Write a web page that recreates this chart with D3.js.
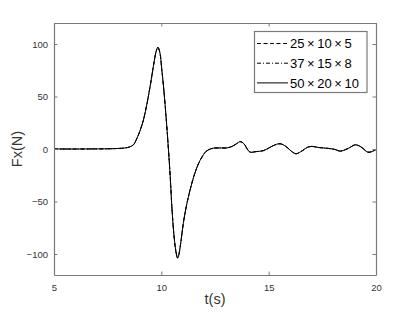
<!DOCTYPE html>
<html>
<head>
<meta charset="utf-8">
<script src="https://cdn.jsdelivr.net/npm/d3@7"></script>
<style>
  body { margin: 0; background: #fff; }
  #chart { width: 415px; height: 312px; }
  text { font-family: "Liberation Sans", Arial, sans-serif; }
</style>
</head>
<body>
<div id="chart"></div>
<script>
// time samples (s)
var times = [5, 6, 7, 7.5, 8, 8.3, 8.5, 8.7, 8.86, 9.0, 9.17, 9.33, 9.48, 9.6, 9.68, 9.76, 9.84, 9.93,
  10.02, 10.1, 10.18, 10.26, 10.33, 10.41, 10.49, 10.57, 10.64, 10.7, 10.75, 10.8, 10.9, 11.03, 11.18,
  11.34, 11.5, 11.65, 11.8, 11.96, 12.1, 12.28, 12.43, 12.6, 12.8, 13.05, 13.3, 13.5, 13.68, 13.85, 14.0,
  14.14, 14.4, 14.76, 15.1, 15.3, 15.54, 15.8, 16.05, 16.27, 16.5, 16.8, 17.0, 17.3, 17.8, 18.1, 18.34,
  18.7, 19.04, 19.3, 19.62, 19.8, 20];

// Fx (N) for each mesh
var fxCoarse = [0, 0, 0.1, 0.2, 0.5, 1, 1.8, 4, 10, 17, 28, 43, 60, 75, 85, 93, 96.6, 92, 76, 60, 41,
  20, 0, -25, -55, -78, -92, -100, -103.4, -102, -90, -70, -53, -39, -27, -18, -11, -5.5, -2, 0, 0.8,
  1, 1, 1, 2.5, 5, 7, 5, 0, -3, -2.5, -1.5, 2, 4, 5, 2.5, -2, -4.5, -2.5, 1.5, 2.5, 1.5, 0.5, -0.5,
  -2, 0.5, 4, 2, -3, -2.5, -0.5];
var fxMedium = [0, 0, 0.1, 0.2, 0.5, 1, 1.8, 4, 10, 17, 28, 43, 60, 75, 85, 93, 96.8, 92, 76, 60, 41,
  20, 0, -25, -55, -78, -92, -100, -103.7, -102, -90, -70, -53, -39, -27, -18, -11, -5.5, -2, 0, 0.8,
  1, 1, 1, 2.5, 5, 7, 5, 0, -3, -2.5, -1.5, 2, 4, 5, 2.5, -2, -4.5, -2.5, 1.5, 2.5, 1.5, 0.5, -0.5,
  -2, 0.5, 4, 2, -3, -2.5, -0.5];
var fxFine = [0, 0, 0.1, 0.2, 0.5, 1, 1.8, 4, 10, 17, 28, 43, 60, 75, 85, 93, 97, 92, 76, 60, 41,
  20, 0, -25, -55, -78, -92, -100, -104, -102, -90, -70, -53, -39, -27, -18, -11, -5.5, -2, 0, 0.8,
  1, 1, 1, 2.5, 5, 7, 5, 0, -3, -2.5, -1.5, 2, 4, 5, 2.5, -2, -4.5, -2.5, 1.5, 2.5, 1.5, 0.5, -0.5,
  -2, 0.5, 4, 2, -3, -2.5, -0.5];

var seriesNames = ["25\u2009\u00d7\u200910\u2009\u00d7\u20095", "37\u2009\u00d7\u200915\u2009\u00d7\u20098", "50\u2009\u00d7\u200920\u2009\u00d7\u200910"];
var xTicks = [5, 10, 15, 20];
var yTicks = [-100, -50, 0, 50, 100];

var series = [
  { name: seriesNames[0], values: fxCoarse, dash: "4,2.5" },
  { name: seriesNames[1], values: fxMedium, dash: "4,2,1,2" },
  { name: seriesNames[2], values: fxFine, dash: null }
];

var width = 415, height = 312;
var plotLeft = 54, plotRight = 376, plotTop = 23, plotBottom = 275;
var axisColor = "#7a7a7a";
var textColor = "#333";

var svg = d3.select("#chart")
  .append("svg")
    .attr("width", width)
    .attr("height", height);

var x = d3.scaleLinear().domain([5, 20]).range([plotLeft, plotRight]);
var y = d3.scaleLinear().domain([-120, 120]).range([plotBottom, plotTop]);

// lines
var line = d3.line()
  .x(function(d, i) { return x(times[i]); })
  .y(function(d) { return y(d); })
  .curve(d3.curveCatmullRom.alpha(0.5));

svg.selectAll(".series")
  .data(series)
  .enter()
  .append("path")
    .attr("class", "series")
    .attr("fill", "none")
    .attr("stroke", "#000")
    .attr("stroke-width", 1)
    .attr("stroke-dasharray", function(d) { return d.dash; })
    .attr("d", function(d) { return line(d.values); });

// axes, ticks inside, box all round
var tickLen = 3.5;
svg.append("g")
  .attr("transform", "translate(0," + plotBottom + ")")
  .call(d3.axisBottom(x).tickValues(xTicks).tickSizeInner(-tickLen).tickSizeOuter(0).tickPadding(9))
  .classed("axis", true);
svg.append("g")
  .attr("transform", "translate(0," + plotTop + ")")
  .call(d3.axisTop(x).tickValues(xTicks).tickSizeInner(-tickLen).tickSizeOuter(0).tickFormat(""))
  .classed("axis", true);
svg.append("g")
  .attr("transform", "translate(" + plotLeft + ",0)")
  .call(d3.axisLeft(y).tickValues(yTicks).tickSizeInner(-tickLen).tickSizeOuter(0).tickPadding(6))
  .classed("axis", true);
svg.append("g")
  .attr("transform", "translate(" + plotRight + ",0)")
  .call(d3.axisRight(y).tickValues(yTicks).tickSizeInner(-tickLen).tickSizeOuter(0).tickFormat(""))
  .classed("axis", true);

svg.selectAll(".axis").selectAll("path").attr("stroke", axisColor).attr("stroke-width", 1.2);
svg.selectAll(".axis").selectAll("line").attr("stroke", axisColor);
svg.selectAll(".axis").selectAll("text")
  .style("fill", textColor)
  .style("font-size", "9.5px")
  .style("font-family", "'Liberation Sans', Arial, sans-serif");

// axis labels
svg.append("text")
  .attr("x", (plotLeft + plotRight) / 2)
  .attr("y", 304)
  .attr("text-anchor", "middle")
  .style("font-size", "14.5px")
  .style("fill", textColor)
  .text("t(s)");
svg.append("text")
  .attr("transform", "translate(22," + y(0) + ") rotate(-90)")
  .attr("text-anchor", "middle")
  .style("font-size", "14.5px")
  .style("fill", textColor)
  .text("Fx(N)");

// legend
var legend = svg.append("g");
legend.append("rect")
  .attr("x", 254.5)
  .attr("y", 31.5)
  .attr("width", 112.5)
  .attr("height", 61)
  .attr("fill", "#fff")
  .attr("stroke", axisColor)
  .attr("stroke-width", 1.2);
var rows = legend.selectAll(".row")
  .data(series)
  .enter()
  .append("g")
    .attr("transform", function(d, i) { return "translate(0," + (43.5 + i * 19.7) + ")"; });
rows.append("line")
  .attr("x1", 257)
  .attr("x2", 288)
  .attr("stroke", "#000")
  .attr("stroke-width", 1)
  .attr("stroke-dasharray", function(d) { return d.dash; });
rows.append("text")
  .attr("x", 290)
  .attr("dy", "0.36em")
  .style("font-size", "13px")
  .style("fill", "#000")
  .text(function(d) { return d.name; });
</script>
</body>
</html>
